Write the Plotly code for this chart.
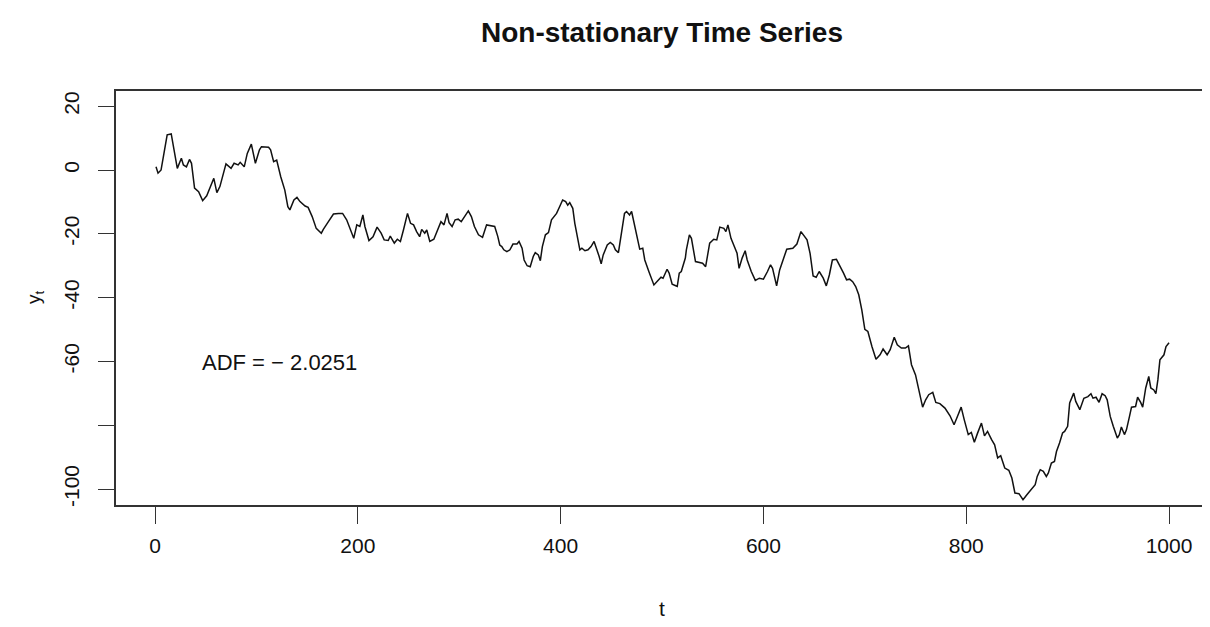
import plotly.graph_objects as go

# Time index (vertices) and series values
t_vals = [1, 3, 6, 9, 12, 16, 19, 22, 26, 28, 31, 34, 36, 39, 43, 47, 51, 55, 58, 61, 64, 70, 75, 78, 82, 84, 88, 91, 95, 99,
          103, 105, 112, 114, 117, 120, 124, 128, 131, 133, 137, 140, 143, 148, 151, 155, 159, 164, 166, 171, 176, 181, 185, 189, 193, 196, 199,
          202, 205, 207, 211, 215, 219, 223, 226, 230, 232, 236, 239, 242, 245, 249, 252, 255, 258, 261, 263, 266, 268, 271, 275, 278,
          282, 285, 288, 290, 293, 296, 299, 302, 305, 309, 312, 315, 319, 323, 327, 331, 335, 338, 340, 342, 344, 347, 350, 353, 357,
          359, 362, 364, 367, 370, 373, 375, 378, 380, 382, 385, 388, 391, 394, 396, 399, 402, 405, 407, 409, 412, 414, 417, 419, 421,
          424, 427, 430, 433, 436, 438, 440, 442, 446, 449, 452, 454, 457, 460, 463, 465, 468, 470, 473, 476, 478, 481, 483, 487, 490,
          492, 496, 499, 501, 505, 507, 510, 513, 515, 517, 519, 523, 524, 527, 529, 533, 536, 540, 543, 545, 547, 551, 554, 557, 561,
          563, 565, 568, 571, 574, 576, 579, 582, 584, 588, 592, 596, 600, 604, 607, 609, 613, 616, 619, 623, 629, 633, 637, 641, 643,
          646, 649, 652, 655, 659, 662, 665, 668, 672, 676, 679, 682, 685, 688, 691, 694, 697, 700, 703, 707, 711, 715, 718, 722, 725,
          729, 732, 736, 740, 743, 746, 750, 754, 757, 760, 763, 767, 770, 774, 779, 784, 788, 792, 795, 798, 802, 805, 808, 811, 815,
          818, 821, 825, 828, 831, 834, 838, 842, 845, 848, 852, 856, 860, 865, 868, 870, 873, 876, 879, 881, 884, 887, 889, 892, 895,
          897, 900, 902, 906, 908, 912, 916, 920, 923, 925, 928, 931, 934, 937, 939, 942, 945, 949, 951, 953, 956, 958, 961, 963, 967,
          969, 972, 974, 977, 980, 982, 985, 987, 989, 991, 995, 997, 1000]
y_vals = [1.0, -1.0, 0.0, 5.2, 11.0, 11.3, 5.2, 0.5, 3.7, 1.6, 1.0, 3.3, 2.1, -5.7, -6.8, -9.6, -8.1, -4.7, -2.6, -7.1, -5.2, 1.9, 0.5, 2.1, 1.6, 2.4, 1.0, 5.2, 8.1, 2.1,
          6.3, 7.3, 7.1, 6.3, 2.6, 3.1, -2.1, -6.3, -11.5, -12.5, -9.4, -8.6, -9.9, -11.3, -11.7, -14.6, -18.3, -19.8, -18.6, -16.2, -13.8, -13.6, -13.6, -15.6, -18.8, -21.4, -17.2,
          -17.7, -14.1, -17.7, -22.1, -20.9, -17.9, -19.8, -21.9, -22.1, -20.7, -22.9, -21.7, -22.4, -18.8, -13.6, -16.7, -17.2, -19.3, -20.9, -18.6, -19.8, -18.8, -22.4, -21.7, -19.3,
          -16.2, -17.2, -13.6, -16.5, -17.7, -15.6, -15.4, -16.2, -14.6, -12.8, -14.6, -17.7, -20.3, -21.1, -17.2, -17.5, -17.7, -20.8, -23.5, -24.0, -25.0, -25.6, -25.0, -23.2, -23.2,
          -22.4, -24.5, -28.2, -30.0, -30.3, -27.1, -25.9, -26.6, -28.4, -24.0, -20.3, -19.6, -15.6, -14.6, -13.6, -11.5, -9.4, -9.9, -11.0, -10.2, -12.0, -16.7, -21.9, -25.0, -24.5,
          -25.3, -25.0, -24.0, -22.4, -25.0, -27.1, -29.4, -26.6, -23.5, -22.7, -23.5, -25.0, -25.9, -19.8, -13.6, -13.0, -14.1, -13.0, -17.7, -21.9, -24.8, -24.5, -28.2, -31.8, -34.4,
          -36.0, -34.6, -33.6, -33.9, -31.1, -32.3, -35.8, -36.2, -36.5, -32.3, -31.8, -27.6, -25.0, -20.3, -21.4, -28.7, -29.0, -29.2, -30.3, -27.1, -22.9, -21.7, -21.9, -17.9, -18.3,
          -19.3, -17.2, -21.4, -23.5, -26.1, -30.8, -27.6, -25.3, -28.2, -31.8, -34.6, -33.9, -34.2, -31.8, -29.7, -30.8, -36.3, -31.3, -28.2, -24.8, -24.5, -23.2, -19.3, -20.9, -21.9,
          -26.1, -33.2, -33.6, -31.8, -33.9, -36.3, -32.9, -28.2, -28.0, -30.3, -32.3, -34.4, -34.2, -35.0, -36.5, -39.1, -43.8, -49.9, -50.6, -55.3, -59.3, -57.9, -56.1, -57.9, -56.3,
          -52.4, -54.8, -55.8, -55.8, -55.1, -61.0, -64.2, -70.4, -74.3, -72.0, -70.4, -69.7, -72.8, -73.2, -74.6, -77.0, -79.8, -76.7, -74.3, -78.2, -82.9, -82.2, -85.3, -82.6, -79.3,
          -83.3, -81.9, -84.5, -86.1, -90.2, -89.5, -93.4, -94.1, -96.5, -101.2, -101.4, -103.3, -101.7, -99.6, -98.6, -96.0, -93.9, -94.4, -96.0, -94.9, -91.8, -91.3, -88.2, -85.5, -82.4,
          -81.9, -80.3, -73.0, -69.9, -72.5, -75.1, -71.5, -71.0, -70.1, -71.5, -71.2, -72.8, -70.1, -70.7, -72.0, -77.2, -80.3, -84.0, -82.9, -80.5, -82.9, -81.4, -77.2, -74.3, -74.1,
          -71.2, -72.8, -74.3, -68.3, -64.7, -68.3, -68.9, -70.1, -65.7, -59.5, -57.9, -55.3, -54.1]

x_ticks = [0, 200, 400, 600, 800, 1000]
x_ticktext = ["0", "200", "400", "600", "800", "1000"]
y_ticks = [-100, -80, -60, -40, -20, 0, 20]
y_ticktext = ["-100", "", "-60", "-40", "-20", "0", "20"]

title_text = "<b>Non-stationary Time Series</b>"
adf_text = "ADF = \u2212 2.0251"

FONT = "Liberation Sans, Arial, Helvetica, sans-serif"

# The page body adds 8 px around the figure; keep the figure inside the window (no scrollbars).
W, H = 1194, 611
ML, MR, MT, MB = 108, 0, 83, 114
plot_w = W - ML - MR
plot_h = H - MT - MB

fig = go.Figure()
fig.add_trace(go.Scatter(x=t_vals, y=y_vals, mode="lines",
                         line=dict(color="#111111", width=1.5), showlegend=False, hoverinfo="skip"))

fig.add_annotation(x=44, y=-60.4, xref="x", yref="y", text=adf_text, showarrow=False,
                   xanchor="left", yanchor="middle", font=dict(family=FONT, size=22, color="#111111"))
# axis titles (pixel-placed)
fig.add_annotation(xref="paper", yref="paper", x=(654 - ML) / plot_w, y=(H - MB - 600) / plot_h,
                   xanchor="center", yanchor="middle", text="t", showarrow=False,
                   font=dict(family=FONT, size=21, color="#111111"))
fig.add_annotation(xref="paper", yref="paper", x=(27 - ML) / plot_w, y=(H - MB - 289) / plot_h,
                   xanchor="center", yanchor="middle", text="y<sub>t</sub>", showarrow=False,
                   textangle=-90, font=dict(family=FONT, size=19, color="#111111"))

fig.update_layout(
    width=W, height=H,
    margin=dict(l=ML, r=MR, t=MT, b=MB, pad=0),
    paper_bgcolor="white", plot_bgcolor="white",
    font=dict(family=FONT, size=21, color="#111111"),
    title=dict(text=title_text, x=654 / W, xanchor="center", y=1 - 24 / H, yanchor="middle",
               font=dict(family=FONT, size=28, color="#111111")),
    xaxis=dict(range=[-38.46, 1032.5], tickvals=x_ticks, ticktext=x_ticktext, ticks="outside",
               ticklen=17, tickwidth=1, tickcolor="#333333", showgrid=False, zeroline=False,
               showline=True, mirror=True, linecolor="#333333", linewidth=1.5,
               ticklabelstandoff=4, tickfont=dict(size=21)),
    yaxis=dict(range=[-104.96, 24.75], tickvals=y_ticks, ticktext=y_ticktext, ticks="outside",
               ticklen=16, tickwidth=1, tickcolor="#333333", showgrid=False, zeroline=False,
               showline=True, mirror=False, linecolor="#333333", linewidth=1.5,
               tickangle=-90, ticklabelstandoff=11, tickfont=dict(size=21)),
)

fig.write_html("out.html")
